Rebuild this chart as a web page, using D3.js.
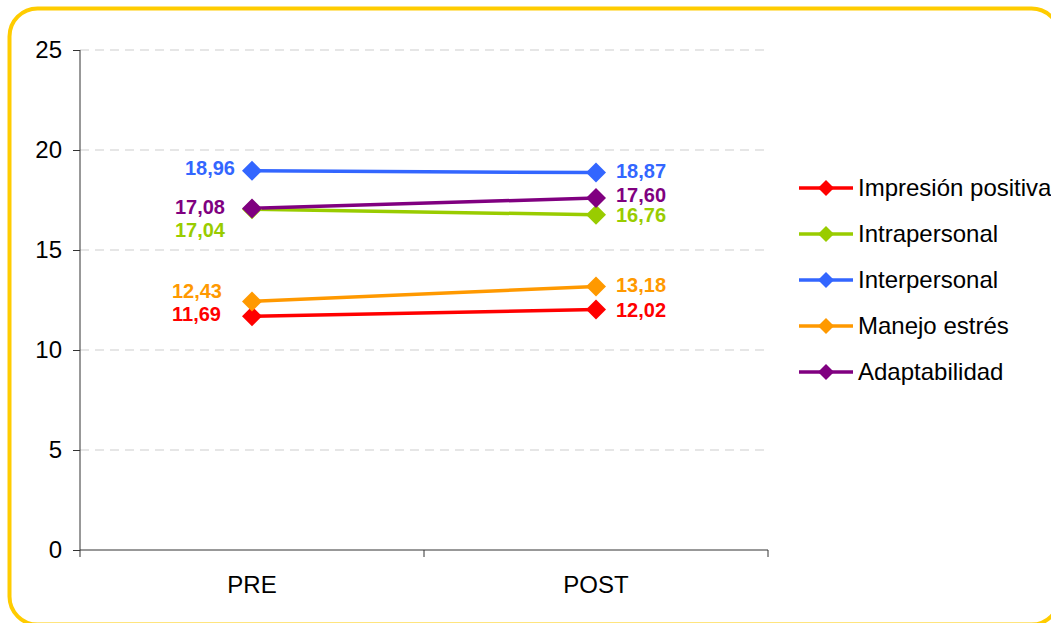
<!DOCTYPE html>
<html>
<head>
<meta charset="utf-8">
<script src="https://cdn.jsdelivr.net/npm/d3@7"></script>
<style>
  html, body { margin: 0; padding: 0; background: #fff; }
  svg { display: block; font-family: "Liberation Sans", Arial, sans-serif; }
</style>
</head>
<body>
<svg id="chart" width="1051" height="623"></svg>
<script>
// ---- data ----
const categories = ["PRE", "POST"];
const seriesNames = ["Impresión positiva", "Intrapersonal", "Interpersonal", "Manejo estrés", "Adaptabilidad"];
const impresionPositiva = [11.69, 12.02];
const intrapersonal = [17.04, 16.76];
const interpersonal = [18.96, 18.87];
const manejoEstres = [12.43, 13.18];
const adaptabilidad = [17.08, 17.60];
const yTicks = [0, 5, 10, 15, 20, 25];

// ---- styling ----
const colors = ["#FF0000", "#99CC00", "#3366FF", "#FF9900", "#800080"];
// PRE label offsets (dx from marker to label end, dy of label center)
const preLabelOffsets = [[-31, -2], [-27, 21], [-17, -3], [-30, -10], [-27, -1]];
// POST label vertical offsets
const postLabelDy = [0, 0.5, -1.5, -1.5, -3.5];

const seriesValues = [impresionPositiva, intrapersonal, interpersonal, manejoEstres, adaptabilidad];
const series = seriesNames.map((name, i) => ({ name, color: colors[i], values: seriesValues[i], off: preLabelOffsets[i], pdy: postLabelDy[i] }));

const svg = d3.select("#chart");

// border
svg.append("rect")
  .attr("x", 9.5).attr("y", 8.5)
  .attr("width", 1050).attr("height", 616)
  .attr("rx", 28).attr("ry", 28)
  .attr("fill", "#fff")
  .attr("stroke", "#FFCC00").attr("stroke-width", 4);

const pLeft = 80, pRight = 768, pTop = 50, pBottom = 550;
const x = d3.scaleBand().domain(categories).range([pLeft, pRight]);
const y = d3.scaleLinear().domain([0, 25]).range([pBottom, pTop]);
const cx = c => x(c) + x.bandwidth() / 2;

// gridlines
svg.append("g").selectAll("line")
  .data(yTicks.filter(t => t > 0))
  .join("line")
  .attr("x1", pLeft).attr("x2", pRight)
  .attr("y1", d => y(d)).attr("y2", d => y(d))
  .attr("stroke", "#CDCDCD").attr("stroke-width", 1)
  .attr("stroke-dasharray", "9,6");

// y axis
const yAxis = svg.append("g")
  .attr("transform", `translate(${pLeft},0)`)
  .call(d3.axisLeft(y).tickValues(yTicks).tickSize(7).tickPadding(11).tickFormat(d3.format("d")));
yAxis.select(".domain").attr("stroke", "#333").attr("d", `M0,${pTop}V${pBottom}`);
yAxis.selectAll(".tick line").attr("stroke", "#333");
yAxis.selectAll(".tick text")
  .attr("font-family", "'Liberation Sans', Arial, sans-serif")
  .attr("font-size", 24).attr("fill", "#000");

// x axis
const xAxis = svg.append("g")
  .attr("transform", `translate(0,${pBottom})`)
  .call(d3.axisBottom(x).tickSize(0).tickPadding(26));
xAxis.select(".domain").attr("stroke", "#333").attr("d", `M${pLeft},0H${pRight}`);
xAxis.selectAll(".tick text")
  .attr("font-family", "'Liberation Sans', Arial, sans-serif")
  .attr("font-size", 24).attr("fill", "#000");
// category boundary ticks
const boundaries = [pLeft, ...categories.slice(1).map(c => x(c)), pRight];
svg.append("g").selectAll("line")
  .data(boundaries).join("line")
  .attr("x1", d => d).attr("x2", d => d)
  .attr("y1", pBottom).attr("y2", pBottom + 7)
  .attr("stroke", "#333");

// lines
const line = d3.line().x((d, i) => cx(categories[i])).y(d => y(d));
const diamond = (s) => `M0,${-s}L${s},0L0,${s}L${-s},0Z`;

const g = svg.append("g");
series.forEach(s => {
  g.append("path")
    .attr("d", line(s.values))
    .attr("fill", "none")
    .attr("stroke", s.color).attr("stroke-width", 3.5);
});
series.forEach(s => {
  g.selectAll(null).data(s.values).join("path")
    .attr("transform", (d, i) => `translate(${cx(categories[i])},${y(d)})`)
    .attr("d", diamond(10))
    .attr("fill", s.color);
});

// data labels
const fmt = v => v.toFixed(2).replace(".", ",");
series.forEach(s => {
  g.append("text")
    .attr("x", cx(categories[0]) + s.off[0])
    .attr("y", y(s.values[0]) + s.off[1])
    .attr("dy", "0.35em")
    .attr("text-anchor", "end")
    .attr("font-size", 20).attr("font-weight", "bold")
    .attr("fill", s.color)
    .text(fmt(s.values[0]));
  g.append("text")
    .attr("x", cx(categories[1]) + 20)
    .attr("y", y(s.values[1]) + s.pdy)
    .attr("dy", "0.35em")
    .attr("text-anchor", "start")
    .attr("font-size", 20).attr("font-weight", "bold")
    .attr("fill", s.color)
    .text(fmt(s.values[1]));
});

// legend
const legend = svg.append("g").attr("transform", "translate(799,188)");
const items = legend.selectAll("g").data(series).join("g")
  .attr("transform", (d, i) => `translate(0,${i * 46})`);
items.append("line")
  .attr("x1", 0).attr("x2", 54).attr("y1", 0).attr("y2", 0)
  .attr("stroke", d => d.color).attr("stroke-width", 3.5);
items.append("path")
  .attr("transform", "translate(27,0)")
  .attr("d", diamond(8))
  .attr("fill", d => d.color);
items.append("text")
  .attr("x", 59).attr("y", 0).attr("dy", "0.35em")
  .attr("font-size", 24).attr("fill", "#000")
  .text(d => d.name);
</script>
</body>
</html>
